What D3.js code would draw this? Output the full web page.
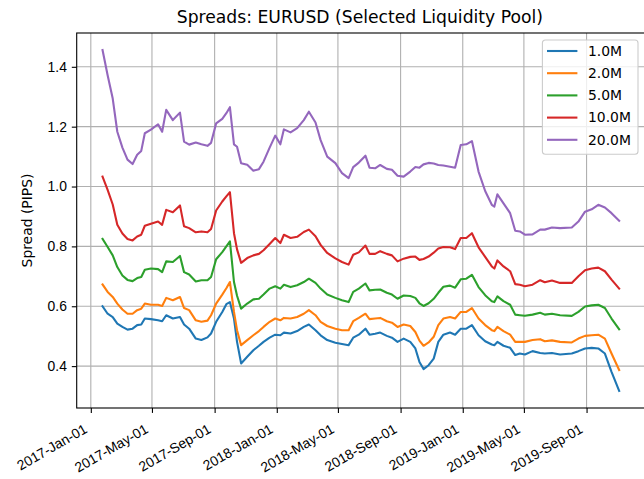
<!DOCTYPE html>
<html>
<head>
<meta charset="utf-8">
<script src="https://cdn.jsdelivr.net/npm/d3@7"></script>
<style>
body { margin: 0; background: #fff; }
svg { font-family: "DejaVu Sans", sans-serif; }
.grid line { stroke: #b0b0b0; stroke-width: 1.1; }
.axis path, .axis line { stroke: #000; stroke-width: 1.1; }
.axis text { font-size: 13.9px; fill: #000; }
.line { fill: none; stroke-width: 2.1; stroke-linejoin: round; stroke-linecap: square; }
</style>
</head>
<body>
<svg width="644" height="479"></svg>
<script>
// values, one point per sample date
var dates = ["2017-01-24","2017-02-03","2017-02-13","2017-02-22","2017-03-04","2017-03-14","2017-03-24","2017-04-02","2017-04-10","2017-04-17",
    "2017-04-29","2017-05-13","2017-05-21","2017-05-29","2017-06-11","2017-06-25","2017-07-03","2017-07-13","2017-07-26","2017-08-06",
    "2017-08-18","2017-08-25","2017-09-04","2017-09-16","2017-09-24","2017-10-01","2017-10-09","2017-10-15","2017-10-23","2017-11-04",
    "2017-11-16","2017-11-27","2017-12-06","2017-12-18","2017-12-29","2018-01-08","2018-01-15","2018-01-28","2018-02-10","2018-02-23",
    "2018-03-05","2018-03-18","2018-03-28","2018-04-10","2018-04-26","2018-05-09","2018-05-22","2018-05-31","2018-06-11","2018-06-24",
    "2018-07-02","2018-07-13","2018-07-23","2018-08-05","2018-08-15","2018-08-26","2018-09-07","2018-09-20","2018-09-30","2018-10-08",
    "2018-10-16","2018-10-26","2018-11-05","2018-11-14","2018-11-24","2018-12-07","2018-12-17","2018-12-28","2019-01-08","2019-01-19",
    "2019-02-01","2019-02-14","2019-02-27","2019-03-04","2019-03-10","2019-03-22","2019-04-04","2019-04-14","2019-04-23","2019-05-03",
    "2019-05-18","2019-06-02","2019-06-11","2019-06-25","2019-07-11","2019-08-03","2019-08-16","2019-08-29","2019-09-11","2019-09-24",
    "2019-10-07","2019-10-20","2019-11-04"];

var pool1 = [0.60,0.575,0.564,0.542,0.531,0.522,0.525,0.537,0.539,0.559,
    0.557,0.553,0.55,0.57,0.559,0.564,0.539,0.525,0.492,0.487,
    0.496,0.509,0.548,0.581,0.607,0.614,0.559,0.481,0.409,0.431,
    0.453,0.468,0.481,0.495,0.505,0.503,0.512,0.509,0.517,0.531,
    0.539,0.52,0.503,0.487,0.478,0.474,0.47,0.495,0.505,0.525,
    0.505,0.508,0.512,0.501,0.495,0.481,0.492,0.481,0.459,0.414,
    0.39,0.403,0.425,0.481,0.505,0.512,0.505,0.525,0.525,0.537,
    0.503,0.483,0.472,0.47,0.481,0.468,0.461,0.437,0.442,0.439,
    0.45,0.444,0.442,0.444,0.439,0.442,0.45,0.459,0.461,0.459,
    0.442,0.381,0.317];

var pool2 = [0.673,0.648,0.631,0.609,0.589,0.575,0.575,0.587,0.592,0.609,
    0.605,0.605,0.601,0.628,0.62,0.631,0.594,0.587,0.553,0.548,
    0.552,0.57,0.609,0.639,0.66,0.681,0.581,0.52,0.47,0.487,
    0.503,0.517,0.531,0.548,0.559,0.553,0.561,0.559,0.564,0.575,
    0.587,0.57,0.548,0.534,0.525,0.52,0.52,0.55,0.561,0.575,
    0.557,0.559,0.561,0.55,0.545,0.531,0.539,0.534,0.514,0.485,
    0.468,0.479,0.498,0.537,0.559,0.564,0.559,0.581,0.581,0.594,
    0.559,0.537,0.52,0.517,0.531,0.517,0.505,0.481,0.481,0.481,
    0.487,0.49,0.483,0.486,0.481,0.479,0.492,0.501,0.503,0.505,
    0.492,0.442,0.387];

var pool5 = [0.825,0.798,0.77,0.731,0.703,0.688,0.684,0.694,0.698,0.722,
    0.726,0.724,0.714,0.75,0.748,0.768,0.714,0.706,0.683,0.687,
    0.687,0.698,0.757,0.781,0.80,0.817,0.681,0.635,0.592,0.609,
    0.623,0.625,0.639,0.659,0.667,0.659,0.672,0.664,0.67,0.681,
    0.692,0.678,0.659,0.639,0.628,0.62,0.614,0.648,0.659,0.676,
    0.653,0.655,0.656,0.645,0.639,0.625,0.636,0.634,0.628,0.61,
    0.601,0.61,0.625,0.645,0.665,0.669,0.662,0.69,0.692,0.705,
    0.664,0.637,0.617,0.614,0.633,0.617,0.605,0.572,0.57,0.568,
    0.572,0.578,0.572,0.575,0.57,0.568,0.581,0.599,0.603,0.605,
    0.594,0.559,0.523];

var pool10 = [1.033,0.989,0.94,0.872,0.843,0.825,0.82,0.833,0.839,0.869,
    0.876,0.883,0.872,0.922,0.914,0.937,0.867,0.861,0.847,0.85,
    0.847,0.858,0.92,0.95,0.967,0.981,0.844,0.79,0.745,0.761,
    0.77,0.775,0.787,0.808,0.828,0.811,0.839,0.828,0.832,0.848,
    0.856,0.834,0.805,0.778,0.76,0.748,0.739,0.772,0.78,0.803,
    0.775,0.775,0.784,0.775,0.77,0.75,0.759,0.765,0.766,0.755,
    0.758,0.766,0.779,0.793,0.798,0.797,0.791,0.828,0.828,0.844,
    0.797,0.765,0.733,0.726,0.753,0.733,0.717,0.674,0.672,0.667,
    0.672,0.687,0.68,0.686,0.678,0.678,0.70,0.72,0.726,0.729,
    0.717,0.689,0.659];

var pool20 = [1.456,1.372,1.294,1.183,1.13,1.09,1.075,1.106,1.119,1.178,
    1.19,1.208,1.183,1.256,1.222,1.247,1.15,1.14,1.147,1.141,
    1.136,1.146,1.211,1.226,1.245,1.265,1.141,1.133,1.078,1.073,
    1.053,1.058,1.083,1.13,1.17,1.141,1.191,1.181,1.195,1.222,
    1.25,1.214,1.155,1.10,1.078,1.045,1.028,1.065,1.08,1.103,
    1.063,1.061,1.072,1.059,1.056,1.036,1.033,1.05,1.065,1.063,
    1.074,1.079,1.077,1.072,1.07,1.066,1.063,1.139,1.141,1.152,
    1.05,0.985,0.939,0.933,0.974,0.944,0.911,0.852,0.85,0.839,
    0.84,0.856,0.856,0.863,0.861,0.863,0.883,0.916,0.924,0.939,
    0.93,0.911,0.886];

var names = ["1.0M", "2.0M", "5.0M", "10.0M", "20.0M"];
var xTicks = ["2017-01-01","2017-05-01","2017-09-01","2018-01-01","2018-05-01","2018-09-01","2019-01-01","2019-05-01","2019-09-01"];
var yTicks = [0.4, 0.6, 0.8, 1.0, 1.2, 1.4];

var COLORS = ["#1f77b4", "#ff7f0e", "#2ca02c", "#d62728", "#9467bd"];

var parse = d3.timeParse("%Y-%m-%d");
var series = [pool1, pool2, pool5, pool10, pool20].map(function(vals, i) {
    return { name: names[i], values: vals.map(function(v, j) { return { date: parse(dates[j]), v: v }; }) };
});

var svg = d3.select("svg");
var MARGIN = {top: 33, left: 76.7};
var WIDTH = 568.3, HEIGHT = 375;   // right edge sits just past the picture

// matplotlib style 5% padding on both axes
var xExt = d3.extent(dates, parse);
var xPad = (xExt[1] - xExt[0]) * 0.05;
var allV = [].concat(pool1, pool2, pool5, pool10, pool20);
var yExt = d3.extent(allV);
var yPad = (yExt[1] - yExt[0]) * 0.05;

var x = d3.scaleTime()
    .domain([new Date(+xExt[0] - xPad), new Date(+xExt[1] + xPad)])
    .range([0, WIDTH]);
var y = d3.scaleLinear()
    .domain([yExt[0] - yPad, yExt[1] + yPad])
    .range([HEIGHT, 0]);

var g = svg.append("g")
    .attr("transform", "translate(" + MARGIN.left + "," + MARGIN.top + ")");

// grid
var tickDates = xTicks.map(parse);
g.append("g").attr("class", "grid")
    .selectAll("line").data(tickDates).enter().append("line")
    .attr("x1", d => x(d)).attr("x2", d => x(d))
    .attr("y1", 0).attr("y2", HEIGHT);
g.append("g").attr("class", "grid")
    .selectAll("line").data(yTicks).enter().append("line")
    .attr("x1", 0).attr("x2", WIDTH)
    .attr("y1", d => y(d)).attr("y2", d => y(d));

var line = d3.line()
    .x(d => x(d.date))
    .y(d => y(d.v));

g.selectAll(".line").data(series).enter().append("path")
    .attr("class", "line")
    .attr("stroke", (d, i) => COLORS[i])
    .attr("d", d => line(d.values));

// frame
g.append("rect")
    .attr("width", WIDTH).attr("height", HEIGHT)
    .attr("fill", "none").attr("stroke", "#000").attr("stroke-width", 1.1);

var xAxis = g.append("g")
    .attr("class", "axis")
    .attr("transform", "translate(0," + HEIGHT + ")")
    .call(d3.axisBottom(x).tickValues(tickDates).tickFormat(d3.timeFormat("%Y-%b-%d")).tickSizeOuter(0).tickSize(4.9));
xAxis.select(".domain").remove();
xAxis.selectAll("text")
    .attr("x", 0).attr("y", 0).attr("dy", "0.9em")
    .attr("text-anchor", "end")
    .attr("transform", "translate(-9.5,13) rotate(-30)");

var yAxis = g.append("g")
    .attr("class", "axis")
    .call(d3.axisLeft(y).tickValues(yTicks).tickFormat(d3.format(".1f")).tickSizeOuter(0).tickSize(4.9).tickPadding(4.9));
yAxis.select(".domain").remove();

// labels
svg.append("text")
    .attr("x", MARGIN.left + WIDTH / 2 - 1).attr("y", 22.7)
    .attr("text-anchor", "middle")
    .attr("font-size", "17.2px")
    .text("Spreads: EURUSD (Selected Liquidity Pool)");

svg.append("text")
    .attr("transform", "translate(32," + (MARGIN.top + HEIGHT / 2) + ") rotate(-90)")
    .attr("text-anchor", "middle")
    .attr("font-size", "13.9px")
    .text("Spread (PIPS)");

// legend, upper right
var LW = 95.6, LH = 114.3;
var legend = g.append("g")
    .attr("transform", "translate(" + (WIDTH - 7 - LW) + ",7)");
legend.append("rect")
    .attr("width", LW).attr("height", LH).attr("rx", 3)
    .attr("fill", "#fff").attr("fill-opacity", 0.8)
    .attr("stroke", "#ccc").attr("stroke-width", 1.1);
var item = legend.selectAll(".item").data(names).enter().append("g")
    .attr("transform", (d, i) => "translate(0," + (11 + i * 22.2) + ")");
item.append("line")
    .attr("x1", 4.6).attr("x2", 35)
    .attr("stroke", (d, i) => COLORS[i]).attr("stroke-width", 2.1);
item.append("text")
    .attr("x", 45.6).attr("dy", "0.35em")
    .attr("font-size", "13.9px")
    .text(d => d);
</script>
</body>
</html>
